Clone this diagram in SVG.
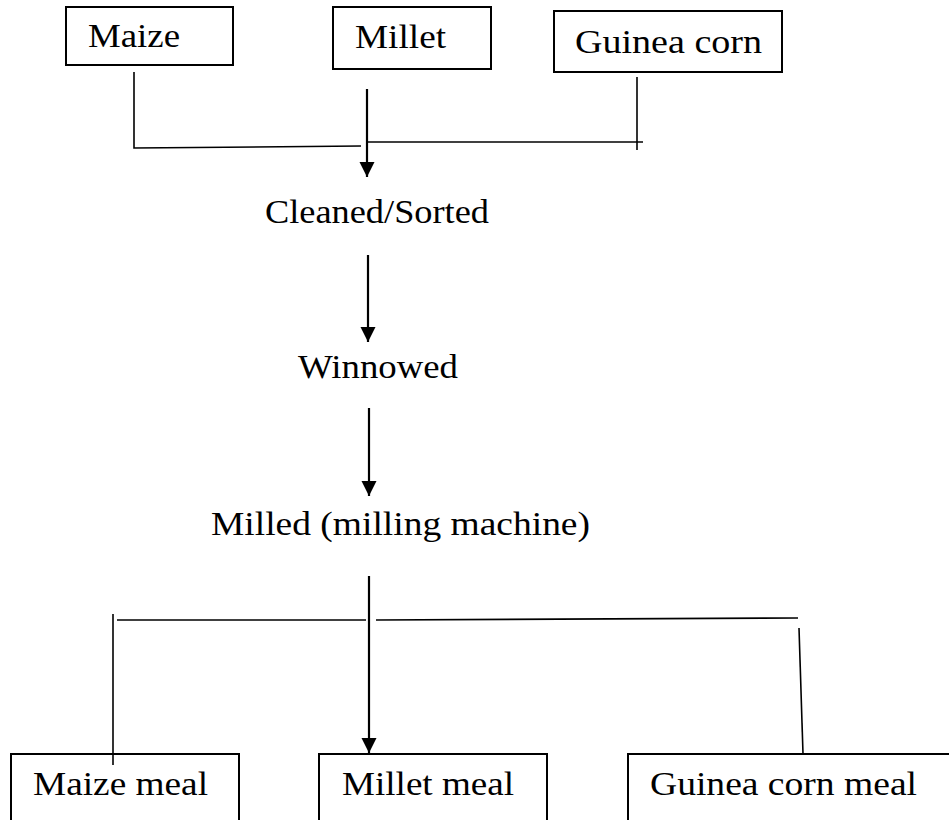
<svg xmlns="http://www.w3.org/2000/svg" width="949" height="820" viewBox="0 0 949 820">
<defs>
<marker id="ah" markerUnits="userSpaceOnUse" markerWidth="16" markerHeight="16" refX="15" refY="8" orient="auto" viewBox="0 0 16 16">
<path d="M0,0.5 L15,8 L0,15.5 Z" fill="#000"/>
</marker>
<style>
.box{fill:#fff;stroke:#000;stroke-width:2}
.t{font-family:"Liberation Serif","Times New Roman",serif;font-size:33px;fill:#000}
.ln{fill:none;stroke:#000;stroke-width:1.6}
.ar{fill:none;stroke:#000;stroke-width:2.2;marker-end:url(#ah)}
</style>
</defs>
<rect width="949" height="820" fill="#fff"/>
<g id="maize"><rect class="box" x="66" y="7" width="167" height="58"/><text class="t" x="88" y="47" textLength="92" lengthAdjust="spacingAndGlyphs">Maize</text></g>
<g id="millet"><rect class="box" x="333" y="7" width="158" height="62"/><text class="t" x="355" y="48" textLength="91" lengthAdjust="spacingAndGlyphs">Millet</text></g>
<g id="guinea"><rect class="box" x="554" y="11" width="228" height="61"/><text class="t" x="575" y="53" textLength="187" lengthAdjust="spacingAndGlyphs">Guinea corn</text></g>
<g id="cleaned"><text class="t" x="265" y="223" textLength="224" lengthAdjust="spacingAndGlyphs">Cleaned/Sorted</text></g>
<g id="winnowed"><text class="t" x="298" y="378" textLength="160" lengthAdjust="spacingAndGlyphs">Winnowed</text></g>
<g id="milled"><text class="t" x="211" y="535" textLength="379" lengthAdjust="spacingAndGlyphs">Milled (milling machine)</text></g>
<g id="maizemeal"><rect class="box" x="11" y="754" width="228" height="80"/><text class="t" x="33" y="795" textLength="175" lengthAdjust="spacingAndGlyphs">Maize meal</text></g>
<g id="milletmeal"><rect class="box" x="319" y="754" width="228" height="80"/><text class="t" x="342" y="795" textLength="172" lengthAdjust="spacingAndGlyphs">Millet meal</text></g>
<g id="guineameal"><rect class="box" x="628" y="754" width="330" height="80"/><text class="t" x="650" y="795" textLength="267" lengthAdjust="spacingAndGlyphs">Guinea corn meal</text></g>
<g id="connectors">
<polyline class="ln" points="134,72 134,148 361,146"/>
<line class="ln" x1="637" y1="77" x2="637" y2="150"/>
<line class="ln" x1="367" y1="142" x2="643" y2="142"/>
<line class="ar" x1="367" y1="89" x2="367" y2="177"/>
<line class="ar" x1="368" y1="255" x2="368" y2="342"/>
<line class="ar" x1="369" y1="408" x2="369" y2="496"/>
<line class="ar" x1="369" y1="576" x2="369" y2="753"/>
<line class="ln" x1="117" y1="620" x2="366" y2="620"/>
<line class="ln" x1="376" y1="620" x2="798" y2="618"/>
<line class="ln" x1="113" y1="614" x2="113" y2="765"/>
<line class="ln" x1="799" y1="628" x2="803" y2="754"/>
</g>
</svg>
